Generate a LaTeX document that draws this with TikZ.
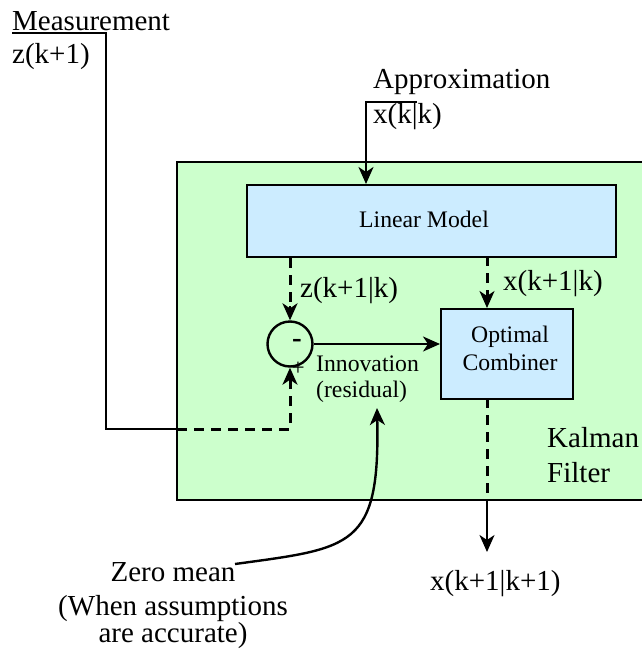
\documentclass[tikz,border=0pt]{standalone}
\usepackage{fontspec}
\setmainfont{Liberation Serif}
\usetikzlibrary{arrows.meta}
\definecolor{kfgreen}{RGB}{204,255,204}
\definecolor{boxblue}{RGB}{204,236,255}
\begin{document}
\begin{tikzpicture}[x=1pt,y=-1pt,
  big/.style={font=\fontsize{29}{33}\selectfont,inner sep=0pt},
  small/.style={font=\fontsize{23.7}{28}\selectfont,inner sep=0pt},
  blk/.style={draw=black,line width=2.4pt,fill=boxblue},
  tip/.style={-{Stealth[length=17pt,width=15pt,inset=5pt]}},
  sol/.style={line width=2.4pt},
  dsh/.style={line width=3pt,dash pattern=on 10pt off 7pt}]
\useasboundingbox (0,0) rectangle (641,653);
% Kalman filter box
\path[draw=black,line width=2.4pt,fill=kfgreen] (177,162) rectangle (660,500);
\node[blk,minimum width=369pt,minimum height=72pt,inner sep=0pt,anchor=north west] (lm) at (246,184) {};
\node[small,anchor=base] (lmt) at (424,227) {Linear Model};
\node[blk,minimum width=132pt,minimum height=90pt,inner sep=0pt,anchor=north west] (oc) at (440,308) {};
\node[small,anchor=base] (oct1) at (510,342) {Optimal};
\node[small,anchor=base] (oct2) at (510,370) {Combiner};
\node[draw=black,line width=2.4pt,circle,minimum size=45pt,inner sep=0pt] (sum) at (290,344) {};
\node[big,font=\fontsize{29}{33}\selectfont\bfseries,anchor=center] (minus) at (297,343) {-};
\node[small,anchor=center] (plus) at (298,369) {+};
% texts
\node[big,anchor=base west] (meas) at (12,30) {Measurement};
\node[big,anchor=base west] (zk) at (12,63) {z(k+1)};
\node[big,anchor=base west] (appr) at (373,88) {Approximation};
\node[big,anchor=base west] (xkk) at (373,123) {x(k|k)};
\node[big,anchor=base west] (zpred) at (300,297) {z(k+1|k)};
\node[big,anchor=base west] (xpred) at (503,290) {x(k+1|k)};
\node[small,anchor=base west] (inn1) at (316,371) {Innovation};
\node[small,anchor=base west] (inn2) at (316,397) {(residual)};
\node[big,anchor=base west] (kal1) at (547,447) {Kalman};
\node[big,anchor=base west] (kal2) at (547,482) {Filter};
\node[big,anchor=base west] (xout) at (430,590) {x(k+1|k+1)};
\node[big,anchor=base] (zm1) at (173,581) {Zero mean};
\node[big,anchor=base] (zm2) at (173,615) {(When assumptions};
\node[big,anchor=base] (zm3) at (173,642) {are accurate)};
% coordinates
\coordinate (m0) at (12,33);
\coordinate (m1) at (106,33);
\coordinate (m2) at (106,429);
\coordinate (m3) at (177,429);
\coordinate (m4) at (290,429);
\coordinate (a0) at (417,102);
\coordinate (a1) at (366,102);
\coordinate (p1) at (487,256);
\coordinate (q1) at (487,398);
\coordinate (q2) at (487,500);
\coordinate (q3) at (487,552);
\coordinate (c0) at (235,564);
\coordinate (c1) at (377,408);
% connectors
\draw[sol] (m0) -- (m1) -- (m2) -- (m3);
\draw[dsh] (m3) -- (m4) -- ([yshift=-12pt]sum.south);
\draw[sol,tip] ([yshift=-14pt]sum.south) -- (sum.south);
\draw[sol,tip] (a0) -- (a1) -- (a1 |- lm.north);
\draw[dsh] (sum.north |- lm.south) -- ([yshift=12pt]sum.north);
\draw[sol,tip] ([yshift=14pt]sum.north) -- (sum.north);
\draw[dsh] (p1) -- ([yshift=12pt]p1 |- oc.north);
\draw[sol,tip] ([yshift=14pt]p1 |- oc.north) -- (p1 |- oc.north);
\draw[sol,tip] (sum.east) -- (oc.west |- sum.east);
\draw[dsh] (q1) -- (q2);
\draw[sol,tip] (q2) -- (q3);
\draw[sol,tip] (c0) .. controls (352,548) and (380,548) .. (c1);
\end{tikzpicture}
\end{document}
